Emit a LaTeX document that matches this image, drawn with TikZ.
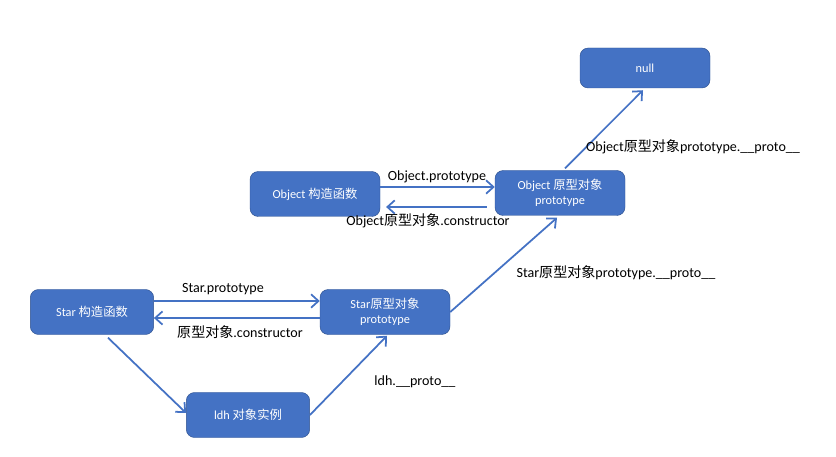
\documentclass[tikz,border=0pt]{standalone}
\usepackage{fontspec}
\setmainfont{Carlito}
\newfontfamily\cjk{Noto Sans CJK SC}
\usetikzlibrary{arrows.meta, calc}
\definecolor{boxblue}{HTML}{4472C4}
\definecolor{boxline}{HTML}{2F528F}
\tikzstyle{box} = [rectangle, rounded corners=7pt, draw=boxline, fill=boxblue, text=white, minimum width=3.9cm, minimum height=1.35cm, align=center, font=\fontsize{10.5}{12.5}\selectfont]
\tikzstyle{arrow} = [draw=boxblue, line width=1.5pt, -{Straight Barb[length=2.2mm,width=4mm]}]
\tikzstyle{lbl} = [font=\fontsize{12}{14}\selectfont, inner sep=0pt]

\begin{document}
\begin{tikzpicture}[x=0.03cm, y=-0.03cm]

        \useasboundingbox (0,0) rectangle (836,457);

        % Boxes
        \node at (645,68) [box, minimum height=1.2cm] (null) {null};
        \node at (315,194) [box] (octor) {Object {\cjk 构造函数}};
        \node at (560,193) [box] (oproto) {Object {\cjk 原型对象}\\prototype};
        \node at (92,312) [box, minimum width=3.7cm] (sctor) {Star {\cjk 构造函数}};
        \node at (385,312) [box] (sproto) {Star{\cjk 原型对象}\\prototype};
        \node at (248,415) [box, minimum width=3.7cm] (ldh) {ldh {\cjk 对象实例}};

        % Object constructor <-> Object prototype
        \draw [arrow] ($(octor.east)+(0,-7)$) -- ($(oproto.west)+(0,-6)$);
        \draw [arrow, shorten <=6.8pt, shorten >=5pt] ($(oproto.west)+(0,14)$) -- ($(octor.east)+(0,13)$);
        \node at (437,177) [lbl] (oprotolbl) {Object.prototype};
        \node at (428,221) [lbl] (octorlbl) {Object{\cjk 原型对象}.constructor};

        % Star constructor <-> Star prototype
        \draw [arrow] ($(sctor.east)+(0,-11)$) -- ($(sproto.west)+(0,-11)$);
        \draw [arrow] ($(sproto.west)+(0,6)$) -- ($(sctor.east)+(0,6)$);
        \node at (223,289) [lbl] (sprotolbl) {Star.prototype};
        \node at (240,332) [lbl] (sctorlbl) {{\cjk 原型对象}.constructor};

        % Star constructor -> ldh
        \draw [arrow] ($(sctor.south)+(16,3)$) -- ($(ldh.west)+(0,-2)$);

        % ldh -> Star prototype
        \draw [arrow] (ldh.east) -- ($(sproto.south)+(2,1)$);
        \node at (415,382) [lbl] (ldhlbl) {ldh.\_\_proto\_\_};

        % Star prototype -> Object prototype
        \draw [arrow] (sproto.east) -- ($(oproto.south)+(-3,2)$);
        \node at (616,273) [lbl] (sprotoprotolbl) {Star{\cjk 原型对象}prototype.\_\_proto\_\_};

        % Object prototype -> null
        \draw [arrow] ($(oproto.north)+(5,-2)$) -- ($(null.south)+(-2,2)$);
        \node at (693,147) [lbl] (oprotoprotolbl) {Object{\cjk 原型对象}prototype.\_\_proto\_\_};

\end{tikzpicture}
\end{document}
